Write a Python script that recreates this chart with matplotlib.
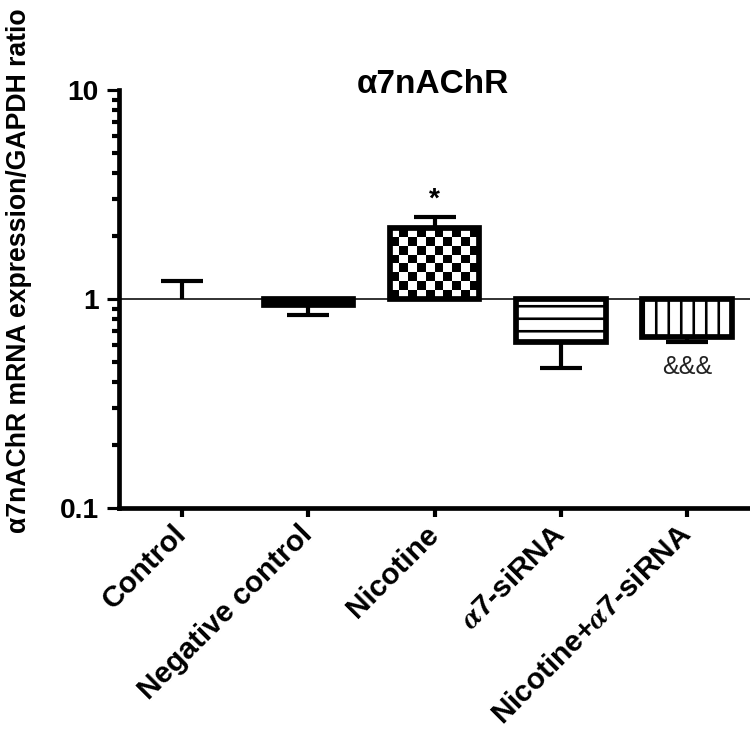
import numpy as np
import matplotlib
matplotlib.use("Agg")
import matplotlib.pyplot as plt
from matplotlib.ticker import LogLocator, NullFormatter, FixedFormatter, FixedLocator

plt.rcParams['font.family'] = ['Liberation Sans', 'DejaVu Sans']
plt.rcParams['font.weight'] = 'bold'
plt.rcParams['mathtext.fontset'] = 'stix'
plt.rcParams['hatch.linewidth'] = 2.5

# =========================
# Datos
# =========================
groups = ["Control", "Negative control", "Nicotine",
          r"$\alpha$7-siRNA", r"Nicotine+$\alpha$7-siRNA"]
means = [1.0, 0.94, 2.19, 0.62, 0.66]
err_ends = [1.22, 0.84, 2.47, 0.47, 0.62]   # extremo de la barra de error
marks = ["", "", "*", "", "&&&"]
hatches = [None, None, "checker", "-", "|"]

# =========================
# Figura
# =========================
fig = plt.figure(figsize=(10, 9.96), dpi=75)
ax = fig.add_axes([0.1587, 0.32, 0.8413, 0.5595])
ax.set_yscale("log")
ax.set_ylim(0.1, 10)
ax.set_xlim(-0.5, len(groups) - 0.5)

x = np.arange(len(groups))
width = 0.71
lw = 5.5

for i, (m, h) in enumerate(zip(means, hatches)):
    if i == 0:
        continue
    if i == 1:
        face = "black"
    elif h == "checker":
        face = "none"
    else:
        face = "white"
    hatch = h if h in ("-", "|") else None
    bar = ax.bar(x[i], m - 1, bottom=1, width=width, facecolor=face,
                 edgecolor="black", linewidth=lw, hatch=hatch, zorder=3)[0]
    if h == "checker":
        xe = np.linspace(x[i] - width / 2, x[i] + width / 2, 11)
        ye = np.geomspace(1, m, 9)
        board = np.indices((8, 10)).sum(axis=0) % 2
        mesh = ax.pcolormesh(xe, ye, board, cmap="gray", zorder=2.5)
        mesh.set_clip_path(bar)

# barras de error de un solo lado
for i, (m, e) in enumerate(zip(means, err_ends)):
    ax.plot([x[i], x[i]], [m, e], color="black", linewidth=4,
            solid_capstyle="butt", zorder=4)
    ax.plot([x[i]], [e], marker="_", markersize=40, markeredgewidth=4,
            color="black", zorder=4)

for i, mk in enumerate(marks):
    if mk == "*":
        ax.annotate(mk, (x[i], err_ends[i]), xytext=(0, 4),
                    textcoords="offset points", ha="center", va="bottom",
                    fontsize=27, fontweight="bold")
    elif mk:
        ax.annotate(mk, (x[i], err_ends[i]), xytext=(0, -12),
                    textcoords="offset points", ha="center", va="top",
                    fontsize=24, fontweight="normal", color="#222222")

ax.axhline(1, color="black", linewidth=1.5, zorder=5)

# =========================
# Ejes
# =========================
for s in ["top", "right"]:
    ax.spines[s].set_visible(False)
for s in ["left", "bottom"]:
    ax.spines[s].set_linewidth(4.5)

ax.yaxis.set_major_locator(FixedLocator([0.1, 1, 10]))
ax.yaxis.set_major_formatter(FixedFormatter(["0.1", "1", "10"]))
ax.yaxis.set_minor_locator(LogLocator(base=10, subs=np.arange(2, 10)))
ax.yaxis.set_minor_formatter(NullFormatter())
ax.tick_params(axis="y", which="major", length=11.5, width=3, labelsize=27, pad=8)
ax.tick_params(axis="y", which="minor", length=7, width=4)

ax.set_xticks(x)
ax.set_xticklabels(groups, rotation=45, ha="right", va="center",
                   rotation_mode="anchor", fontsize=28.5, fontweight="bold")
ax.tick_params(axis="x", length=9, width=4, pad=12)

ax.annotate("α7nAChR", (0.5, 1.0), xycoords="axes fraction", xytext=(-2, 5),
            textcoords="offset points", ha="center", va="center",
            fontsize=32, fontweight="bold")
fig.text(0.026, 0.638, "α7nAChR mRNA expression/GAPDH ratio", rotation=90,
         ha="center", va="center", fontsize=25.5, fontweight="bold")

fig.savefig("out.png", dpi=75)
